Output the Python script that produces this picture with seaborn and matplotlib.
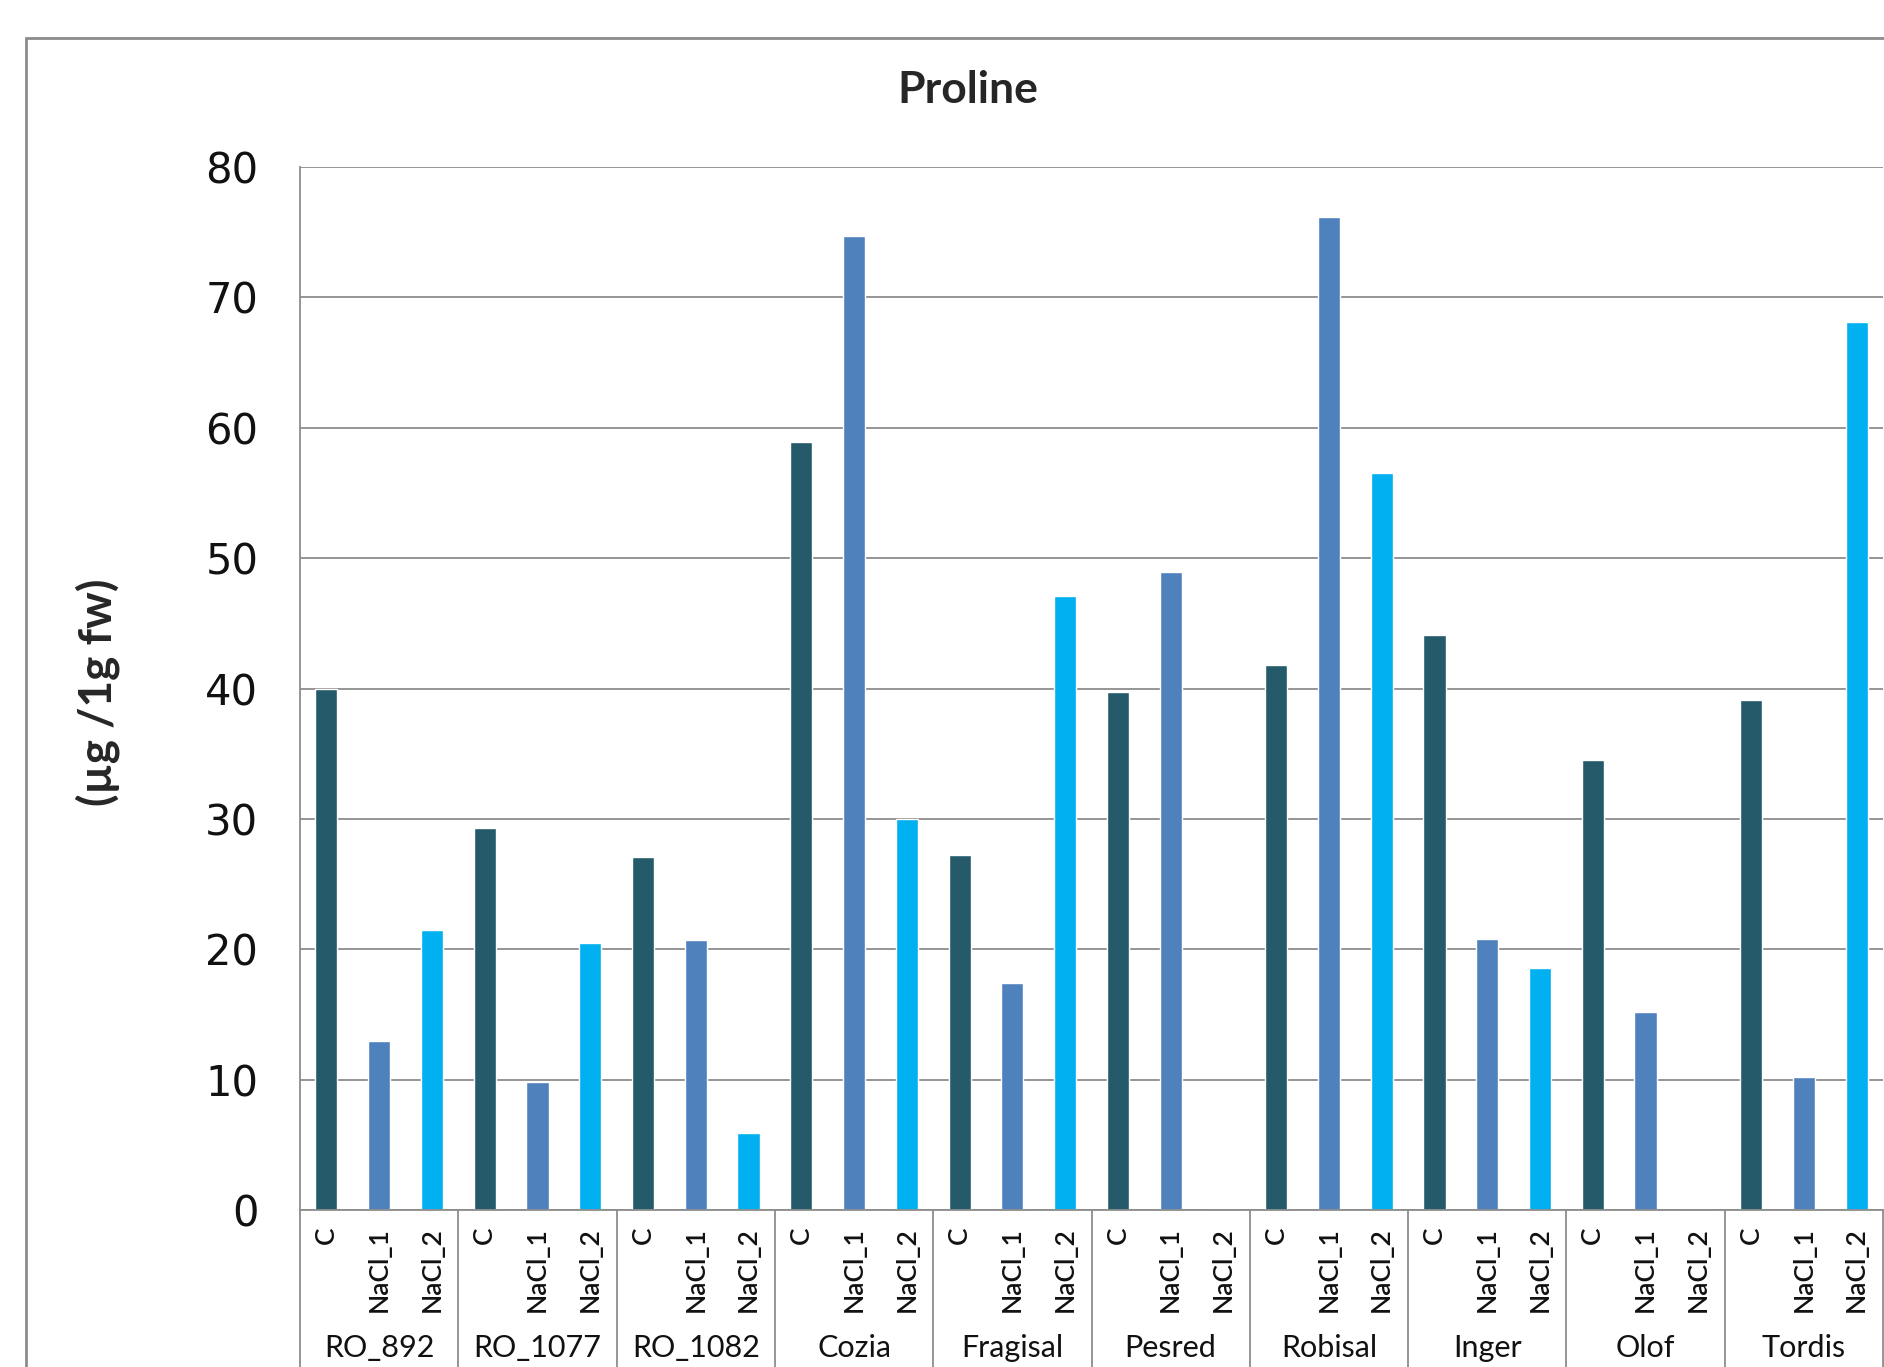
import matplotlib
matplotlib.use("Agg")
import matplotlib.pyplot as plt
import matplotlib.transforms as mtransforms
from matplotlib.patches import Rectangle
import seaborn as sns
import pandas as pd

# Proline content per cultivar and treatment (µg / 1 g fresh weight)
cultivars = ["RO_892", "RO_1077", "RO_1082", "Cozia", "Fragisal",
             "Pesred", "Robisal", "Inger", "Olof", "Tordis"]
treatments = ["C", "NaCl_1", "NaCl_2"]
control = [40.0, 29.3, 27.1, 58.9, 27.2, 39.7, 41.8, 44.1, 34.5, 39.1]
nacl_1 = [13.0, 9.8, 20.7, 74.7, 17.4, 48.9, 76.2, 20.8, 15.2, 10.2]
nacl_2 = [21.5, 20.5, 5.9, 30.0, 47.1, 0.0, 56.5, 18.6, 0.0, 68.1]
yticks = [0, 10, 20, 30, 40, 50, 60, 70, 80]
colors = {"C": "#245a69", "NaCl_1": "#4f81bd", "NaCl_2": "#00b0f0"}

rows = []
for i, cv in enumerate(cultivars):
    for t, series in zip(treatments, [control, nacl_1, nacl_2]):
        rows.append({"slot": f"{cv}|{t}", "cultivar": cv,
                     "treatment": t, "value": series[i]})
df = pd.DataFrame(rows)
order = list(df["slot"])

sns.set_theme(style="white")
plt.rcParams["font.family"] = ["DejaVu Sans"]

W, H = 1884, 1367
fig = plt.figure(figsize=(W / 100, H / 100), dpi=100)
fig.patch.set_facecolor("white")

ax_left, ax_right, ax_top, ax_bot = 300, 1883, 167, 1210
ax = fig.add_axes([ax_left / W, 1 - ax_bot / H,
                   (ax_right - ax_left) / W, (ax_bot - ax_top) / H])

sns.barplot(data=df, x="slot", y="value", hue="treatment", order=order,
            hue_order=treatments, palette=colors, dodge=False, width=0.42,
            legend=False, ax=ax, saturation=1)

ax.set_xlim(-0.5, len(order) - 0.5)
ax.set_ylim(0, 80)
ax.set_yticks(yticks)
ax.set_yticklabels([str(v) for v in yticks], fontsize=30, color="#111111")
ax.tick_params(axis="y", length=0, pad=30)
ax.set_axisbelow(True)
ax.yaxis.grid(True, color="#8c8c8c", linewidth=1.3)
ax.xaxis.grid(False)

for s in ["top", "right"]:
    ax.spines[s].set_visible(False)
for s in ["left", "bottom"]:
    ax.spines[s].set_color("#8c8c8c")
    ax.spines[s].set_linewidth(1.3)

label_font = ["Lato", "DejaVu Sans"]
ax.set_xlabel("")
ax.set_ylabel("")
ax.set_xticks(range(len(order)))
ax.set_xticklabels(list(df["treatment"]), rotation=90, fontsize=19,
                   family=label_font, fontweight="semibold", color="#111111")
ax.tick_params(axis="x", length=0, pad=12)

# Group separators and cultivar names under the treatment labels
trans = mtransforms.blended_transform_factory(ax.transData, ax.transAxes)
for k in range(len(cultivars) + 1):
    xb = 3 * k - 0.5
    ax.plot([xb, xb], [0, -0.2], transform=trans, color="#8c8c8c",
            linewidth=1.3, clip_on=False)
name_y = (ax_bot - 1362) / (ax_bot - ax_top)
for k, cv in enumerate(cultivars):
    ax.text(3 * k + 1, name_y, cv, transform=trans, ha="center",
            va="bottom", fontsize=22, family=label_font, color="#111111")

# Chart area frame, title and axis label
fig.patches.append(Rectangle((26 / W, -0.1), 1.2, 1 - 38 / H + 0.1,
                             transform=fig.transFigure, fill=False,
                             edgecolor="#8c8c8c", linewidth=2))
fig.text(968 / W, 1 - 90 / H, "Proline", ha="center", va="center",
         fontsize=32, fontweight="bold", family=label_font)
fig.text(98 / W, 1 - 692 / H, "(µg /1g fw)", ha="center", va="center",
         rotation=90, fontsize=33, fontweight="bold", family=label_font)

fig.savefig("out.png", dpi=100)
